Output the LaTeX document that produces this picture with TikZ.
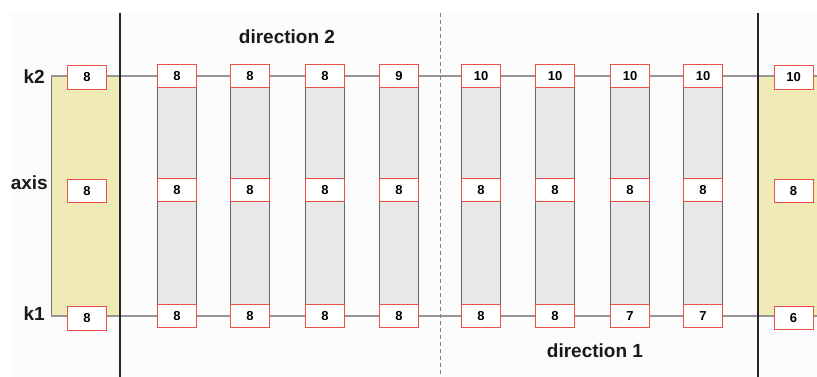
\documentclass[tikz,border=0pt]{standalone}
\usepackage{fontspec}
\setmainfont{Liberation Sans}
\definecolor{labred}{RGB}{232,80,72}
\definecolor{bandyellow}{RGB}{240,234,182}
\definecolor{sleepergrey}{RGB}{232,232,232}
\definecolor{railgrey}{RGB}{150,150,150}
\definecolor{bgwhite}{RGB}{252,252,252}
\begin{document}
\begin{tikzpicture}[x=1pt,y=-1pt,
  lab/.style={draw=labred, fill=white, line width=0.9pt, minimum width=39pt, minimum height=23.5pt, inner sep=0pt, font=\bfseries\fontsize{13}{13}\selectfont},
  big/.style={font=\bfseries\fontsize{19}{19}\selectfont, inner sep=0pt, text=black!90},
  sleeper/.style={draw=black!60, fill=sleepergrey, line width=0.8pt, minimum width=39pt, minimum height=236pt, inner sep=0pt},
  band/.style={draw=black!55, fill=bandyellow, line width=0.8pt},
  rail/.style={draw=railgrey, line width=1.4pt},
  wall/.style={draw=black!85, line width=1.6pt},
  midline/.style={draw=black!50, line width=0.8pt, dash pattern=on 4pt off 3pt}]
\useasboundingbox (0,0) rectangle (817,377);
\fill[bgwhite] (10,13) rectangle (817,377);
% yellow bands
\path[band] (51,76) rectangle (120,316);
\path[band] (758,76) rectangle (830,316);
% rails
\coordinate (k2L) at (51,76);
\coordinate (k2R) at (817,76);
\coordinate (k1L) at (51,316);
\coordinate (k1R) at (817,316);
\draw[rail] (k2L) -- (k2R);
\draw[rail] (k1L) -- (k1R);
% sleepers
\foreach \i/\x in {1/177,2/250,3/325,4/399,5/481,6/555,7/630,8/703}{
  \node[sleeper] (s\i) at (\x,196) {};
}
% walls and middle line
\coordinate (wLt) at (120,13); \coordinate (wLb) at (120,377);
\coordinate (wRt) at (758,13); \coordinate (wRb) at (758,377);
\coordinate (mt) at (440,13); \coordinate (mb) at (440,377);
\draw[wall] (wLt) -- (wLb);
\draw[wall] (wRt) -- (wRb);
\draw[midline] (mt) -- (mb);
% sleeper labels
\foreach \i/\x/\a/\b in {1/177/8/8,2/250/8/8,3/325/8/8,4/399/9/8,5/481/10/8,6/555/10/8,7/630/10/7,8/703/10/7}{
  \node[lab] (t\i) at (\x,76) {\a};
  \node[lab] (m\i) at (\x,190) {8};
  \node[lab] (b\i) at (\x,316) {\b};
}
% band labels
\node[lab] (lt) at (87,77.5) {8};
\node[lab] (lm) at (87,191) {8};
\node[lab] (lb) at (87,318.5) {8};
\node[lab] (rt) at (793.5,77.5) {10};
\node[lab] (rm) at (793.5,191) {8};
\node[lab] (rb) at (793.5,318) {6};
% texts
\node[big, anchor=east] (k2) at (45,77) {k2};
\node[big, anchor=east] (axis) at (48,183) {axis};
\node[big, anchor=east] (k1) at (45,314) {k1};
\node[big] (d2) at (287,37) {direction 2};
\node[big] (d1) at (595,351) {direction 1};
\end{tikzpicture}
\end{document}
